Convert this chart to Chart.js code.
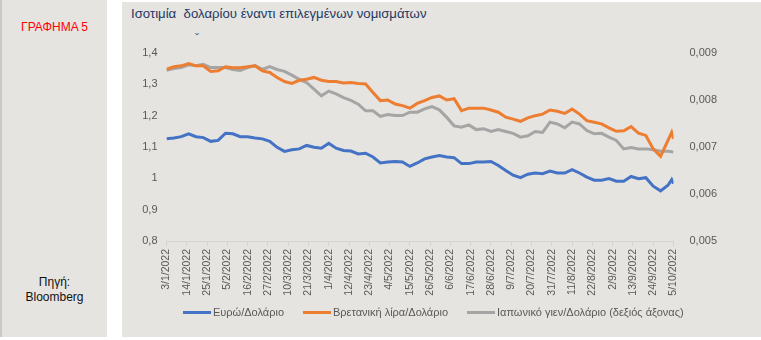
<!DOCTYPE html>
<html>
<head>
<meta charset="utf-8">
<script src="https://cdn.jsdelivr.net/npm/chart.js@4"></script>
<style>
  body { margin: 0; background: #fff; width: 761px; height: 340px; overflow: hidden; font-family: "Liberation Sans", Arial, sans-serif; }
  #side { position: absolute; left: 0; top: 0; width: 107px; height: 337px; background: #E5E4E0; border-left: 2px solid #C8C8C8; box-sizing: border-box; }
  #panel { position: absolute; left: 122px; top: 2px; width: 639px; height: 335px; background: #E5E4E0; }
  .lbl { position: absolute; text-align: center; width: 105px; left: 2px; font-size: 12px; }
  #title { position: absolute; left: 131px; top: 6px; font-size: 13.2px; color: #1F3864; white-space: nowrap; }
  #caret { position: absolute; left: 195px; top: 32px; font-size: 12px; color: #4A6590; }
  canvas { position: absolute; left: 122px; top: 2px; }
  .leg { position: absolute; top: 306px; height: 14px; font-size: 11px; color: #595959; white-space: nowrap; }
  .leg i { display: inline-block; width: 28px; height: 3px; vertical-align: middle; margin-right: 2px; position: relative; top: -1px; }
</style>
</head>
<body>
<div id="side"></div>
<div id="panel"></div>
<div class="lbl" style="top:20px;color:#FF0000;">ΓΡΑΦΗΜΑ 5</div>
<div class="lbl" style="top:275px;color:#111;line-height:15px;">Πηγή:<br>Bloomberg</div>
<div id="title">Ισοτιμία&nbsp; δολαρίου έναντι επιλεγμένων νομισμάτων</div>
<div id="caret">ˇ</div>
<canvas id="canvas" width="639" height="335"></canvas>
<div id="legend"></div>
<script>
// days since 3/1/2022
var days = [0,4,8,12,16,20,24,28,32,36,40,44,48,52,56,60,64,68,72,76,80,84,88,92,96,100,
  104,108,112,116,120,124,128,132,136,140,144,148,152,156,160,164,168,172,176,180,184,188,
  192,196,200,204,208,212,216,220,224,228,232,236,240,244,248,252,256,260,264,268,272,274,275];

var eurUsd = [1.126,1.129,1.133,1.142,1.133,1.130,1.118,1.121,1.144,1.142,1.133,1.133,1.129,1.126,
  1.118,1.099,1.086,1.091,1.094,1.105,1.099,1.096,1.112,1.096,1.089,1.087,1.078,1.080,1.068,1.049,
  1.052,1.054,1.052,1.038,1.049,1.062,1.068,1.073,1.068,1.066,1.047,1.047,1.052,1.052,1.054,1.041,
  1.025,1.010,1.002,1.013,1.017,1.015,1.023,1.017,1.017,1.028,1.017,1.004,0.994,0.994,0.999,0.991,
  0.991,1.006,0.999,1.002,0.975,0.960,0.978,0.996,0.983];

var gbpUsd = [1.348,1.356,1.359,1.366,1.359,1.359,1.341,1.343,1.356,1.353,1.353,1.356,1.359,1.343,
  1.338,1.322,1.309,1.303,1.313,1.316,1.322,1.313,1.309,1.309,1.304,1.306,1.303,1.301,1.274,1.248,
  1.250,1.237,1.232,1.224,1.239,1.248,1.258,1.263,1.250,1.254,1.216,1.224,1.224,1.224,1.218,1.211,
  1.195,1.189,1.182,1.193,1.200,1.205,1.218,1.214,1.207,1.221,1.205,1.184,1.179,1.174,1.161,1.150,
  1.152,1.165,1.144,1.137,1.094,1.070,1.121,1.147,1.126];

var jpyUsd = [0.00863,0.00867,0.00869,0.00875,0.00873,0.00876,0.00869,0.00869,0.00869,0.00865,
  0.00863,0.00869,0.00873,0.00865,0.00871,0.00865,0.00861,0.00853,0.00844,0.00837,0.00823,0.00809,
  0.00819,0.00813,0.00805,0.00799,0.00791,0.00777,0.00777,0.00765,0.00769,0.00767,0.00767,0.00774,
  0.00774,0.00781,0.00786,0.00779,0.00763,0.00745,0.00742,0.00747,0.00737,0.00739,0.00733,0.00737,
  0.00733,0.00729,0.00721,0.00724,0.00733,0.00731,0.00753,0.00749,0.00741,0.00753,0.00749,0.00735,
  0.00728,0.00729,0.00721,0.00714,0.00696,0.00699,0.00696,0.00696,0.00694,0.00691,0.00691,0.00690,0.00689];

var dateLabels = ['3/1/2022','14/1/2022','25/1/2022','5/2/2022','16/2/2022','27/2/2022','10/3/2022',
  '21/3/2022','1/4/2022','12/4/2022','23/4/2022','4/5/2022','15/5/2022','26/5/2022','6/6/2022',
  '17/6/2022','28/6/2022','9/7/2022','20/7/2022','31/7/2022','11/8/2022','22/8/2022','2/9/2022',
  '13/9/2022','24/9/2022','5/10/2022'];

var seriesNames = ['Ευρώ/Δολάριο', 'Βρετανική λίρα/Δολάριο', 'Ιαπωνικό γιεν/Δολάριο (δεξιός άξονας)'];
var colors = ['#4472C4', '#ED7D31', '#A5A5A5'];
var legendLeft = [183, 303, 467];

function pts(vals) {
  return days.map(function(d, i) { return { x: d, y: vals[i] }; });
}

var font = "'Liberation Sans', Arial, sans-serif";

var ctx = document.getElementById('canvas').getContext('2d');
var myChart = new Chart(ctx, {
  type: 'line',
  data: {
    datasets: [{
      label: seriesNames[0],
      data: pts(eurUsd),
      borderColor: colors[0],
      borderWidth: 3,
      yAxisID: 'y'
    }, {
      label: seriesNames[1],
      data: pts(gbpUsd),
      borderColor: colors[1],
      borderWidth: 3,
      yAxisID: 'y'
    }, {
      label: seriesNames[2],
      data: pts(jpyUsd),
      borderColor: colors[2],
      borderWidth: 3,
      yAxisID: 'y1'
    }]
  },
  options: {
    responsive: false,
    animation: false,
    elements: { point: { radius: 0 }, line: { tension: 0 } },
    layout: { padding: { left: 19.5, right: 43.5, top: 51, bottom: 36 } },
    plugins: {
      tooltip: { enabled: false },
      legend: { display: false }
    },
    scales: {
      x: {
        type: 'linear',
        min: 0,
        max: 275,
        grid: { display: true, drawOnChartArea: false, color: '#D4D3CF', tickLength: 5 },
        border: { color: '#D4D3CF' },
        ticks: {
          stepSize: 11,
          autoSkip: false,
          maxRotation: 90,
          minRotation: 90,
          padding: 3,
          color: '#595959',
          font: { family: font, size: 10.5 },
          callback: function(v) { return dateLabels[Math.round(v / 11)]; }
        },
        afterFit: function(s) { s.paddingLeft = 0; s.paddingRight = 0; s.height = 60; }
      },
      y: {
        position: 'left',
        min: 0.8,
        max: 1.4,
        grid: { display: false, drawTicks: false },
        border: { display: false },
        ticks: {
          stepSize: 0.1,
          padding: 9,
          color: '#595959',
          font: { family: font, size: 11 },
          callback: function(v) { return String(Math.round(v * 10) / 10).replace('.', ','); }
        },
        afterFit: function(s) { s.width = 25; }
      },
      y1: {
        position: 'right',
        min: 0.005,
        max: 0.009,
        grid: { display: false, drawTicks: false },
        border: { display: false },
        ticks: {
          stepSize: 0.001,
          padding: 16,
          color: '#595959',
          font: { family: font, size: 11 },
          callback: function(v) { return v.toFixed(3).replace('.', ','); }
        },
        afterFit: function(s) { s.width = 44; }
      }
    }
  }
});

// legend built from the chart's datasets
var legend = document.getElementById('legend');
myChart.data.datasets.forEach(function(ds, i) {
  var item = document.createElement('div');
  item.className = 'leg';
  item.style.left = legendLeft[i] + 'px';
  item.innerHTML = '<i style="background:' + ds.borderColor + '"></i>' + ds.label;
  legend.appendChild(item);
});
</script>
</body>
</html>
